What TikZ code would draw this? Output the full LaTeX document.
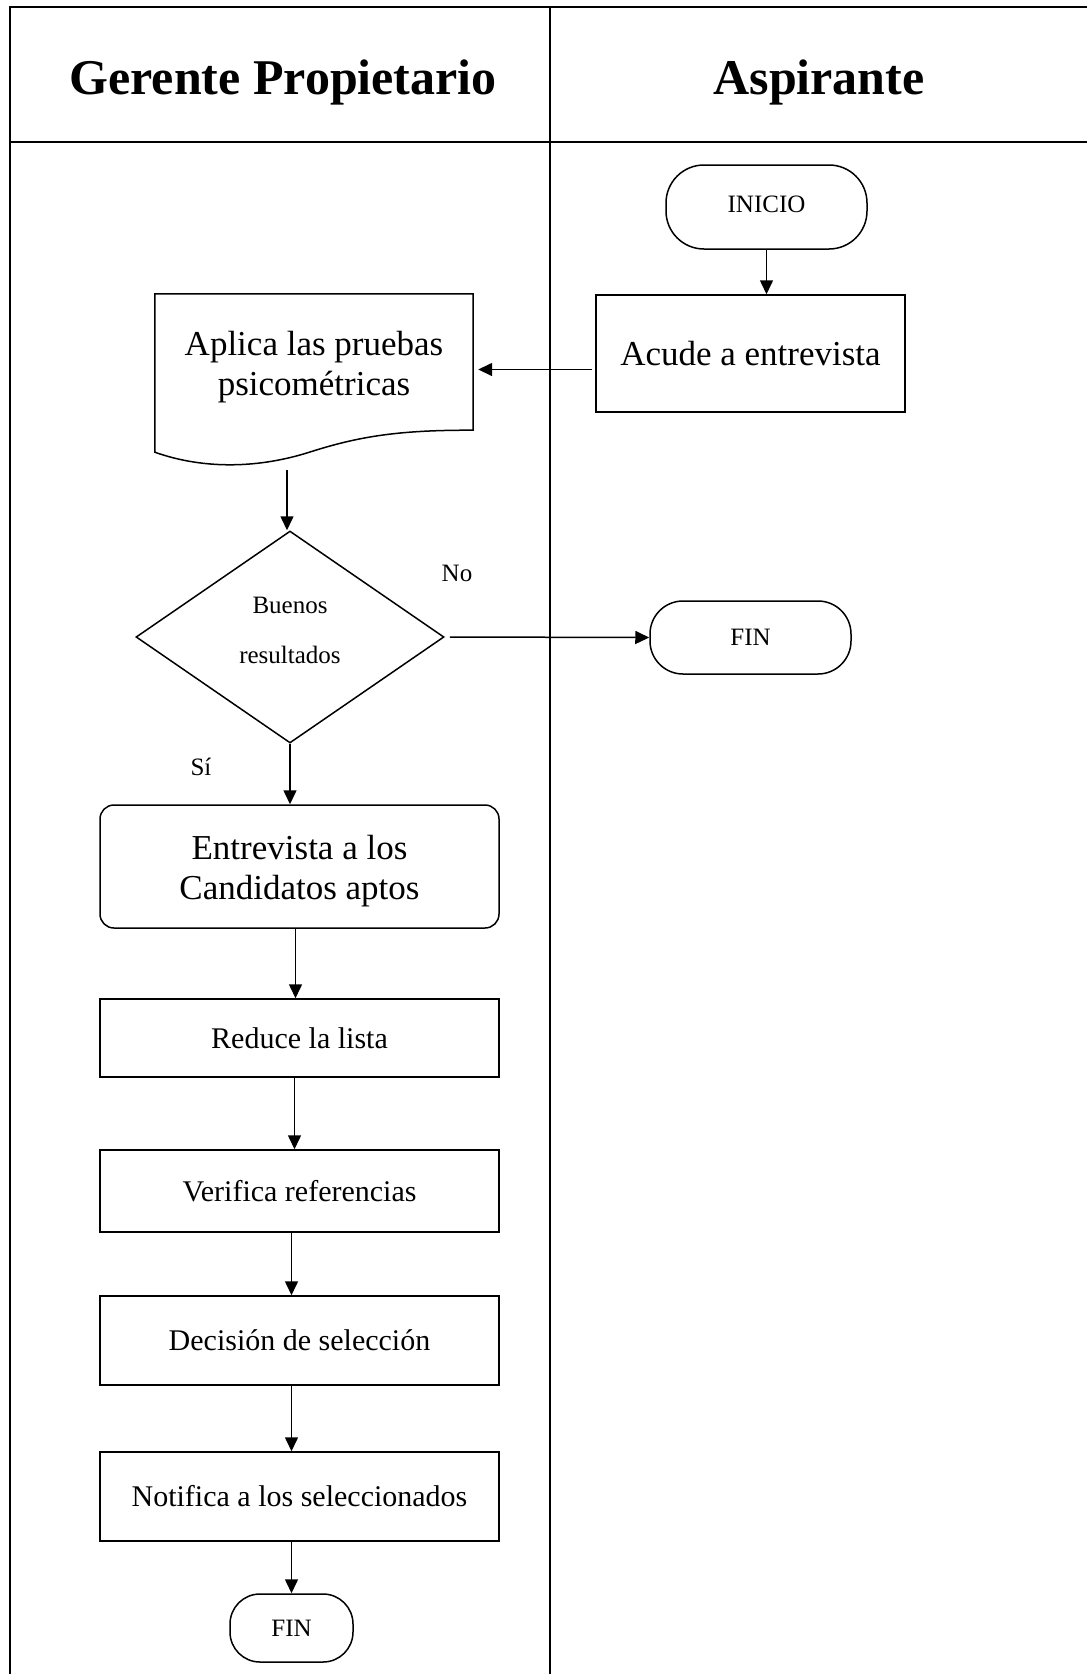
\documentclass[tikz,border=0pt]{standalone}
\usepackage{fontspec}
\setmainfont{Liberation Serif}
\usetikzlibrary{shapes.geometric,arrows.meta,calc}

\begin{document}
\begin{tikzpicture}[x=1pt,y=-1pt,
  lane/.style={line width=1.6pt},
  box/.style={draw, line width=1.5pt, inner sep=0pt, align=center},
  term/.style={box, font=\fontsize{25}{30}\selectfont},
  big/.style={font=\fontsize{35}{40}\selectfont},
  mid/.style={font=\fontsize{30}{36}\selectfont},
  small/.style={font=\fontsize{25}{30}\selectfont},
  head/.style={font=\fontsize{50}{60}\selectfont\bfseries, anchor=base},
  flow/.style={-{Triangle[length=14pt,width=13pt]}, line width=1.5pt},
]
\useasboundingbox (0,0) rectangle (1087,1674);

% swimlane frame
\draw[lane] (10,1674) -- (10,7) -- (1087,7);
\draw[lane] (10,142) -- (1087,142);
\draw[lane] (550,7) -- (550,1674);
\node[head] (h1) at (283,94) {Gerente Propietario};
\node[head] (h2) at (819,94) {Aspirante};

% Aspirante lane
\node[term, minimum width=201pt, minimum height=84pt, rounded corners=38pt]
  (inicio) at (766.5,207) {\raisebox{6pt}{INICIO}};
\node[box, big, minimum width=309pt, minimum height=117pt]
  (acude) at (750.5,353.5) {Acude a entrevista};
\node[term, minimum width=201pt, minimum height=73pt, rounded corners=33pt]
  (fin1) at (750.5,637.5) {FIN};

% Gerente lane: document shape with wavy bottom
\node[inner sep=0pt, minimum width=318pt, minimum height=136pt]
  (doc) at (314,362) {};
\node[big, align=center] (doctext) at (314,367) {Aplica las pruebas\\psicométricas};
\draw[line width=1.5pt]
  ($(doc.south west)+(0,22)$) -- (doc.north west) -- (doc.north east) -- (doc.south east)
  .. controls (400,430) and (360,436) .. (310,452)
  .. controls (260,468) and (205,470) .. ($(doc.south west)+(0,22)$) -- cycle;
\coordinate (docb) at (287,470);

\node[draw, line width=1.5pt, diamond, aspect=1.45, inner sep=0pt,
  minimum width=308pt, minimum height=212pt] (dec) at (290,637) {};
\node[align=center, font=\fontsize{25}{50}\selectfont] (dectext) at (290,630)
  {Buenos\\resultados};
\node[small] (no) at (457,573) {No};
\node[small] (si) at (201,767) {Sí};

\node[box, minimum width=399pt, minimum height=123pt, rounded corners=14pt]
  (entrev) at (299.5,866.5) {};
\node[big, align=center] (entrevtext) at (299.5,871) {Entrevista a los\\Candidatos aptos};
\node[box, mid, minimum width=399pt, minimum height=78pt]
  (reduce) at (299.5,1038) {Reduce la lista};
\node[box, mid, minimum width=399pt, minimum height=82pt]
  (verif) at (299.5,1191) {Verifica referencias};
\node[box, mid, minimum width=399pt, minimum height=89pt]
  (decis) at (299.5,1340.5) {Decisión de selección};
\node[box, mid, minimum width=399pt, minimum height=89pt]
  (notif) at (299.5,1496.5) {Notifica a los seleccionados};
\node[term, minimum width=123pt, minimum height=68pt, rounded corners=30pt]
  (fin2) at (291.5,1628) {FIN};

% connectors
\draw[flow] (inicio.south) -- (inicio.south |- acude.north);
\coordinate (a1) at ($(acude.west)+(-3,16)$);
\draw[flow] (a1) -- ([xshift=5pt]a1 -| doc.east);
\draw[flow] (docb) -- (docb |- dec.north);
\draw[flow] ([xshift=5pt]dec.east) -- (fin1.west);
\draw[flow] (dec.south) -- (dec.south |- entrev.north);
\draw[flow] ([xshift=-4pt]entrev.south) -- ([xshift=-4pt]reduce.north);
\draw[flow] ([xshift=-5pt]reduce.south) -- ([xshift=-5pt]verif.north);
\draw[flow] ([xshift=-8pt]verif.south) -- ([xshift=-8pt]decis.north);
\draw[flow] ([xshift=-8pt]decis.south) -- ([xshift=-8pt]notif.north);
\draw[flow] (fin2.north |- notif.south) -- (fin2.north);
\end{tikzpicture}
\end{document}
